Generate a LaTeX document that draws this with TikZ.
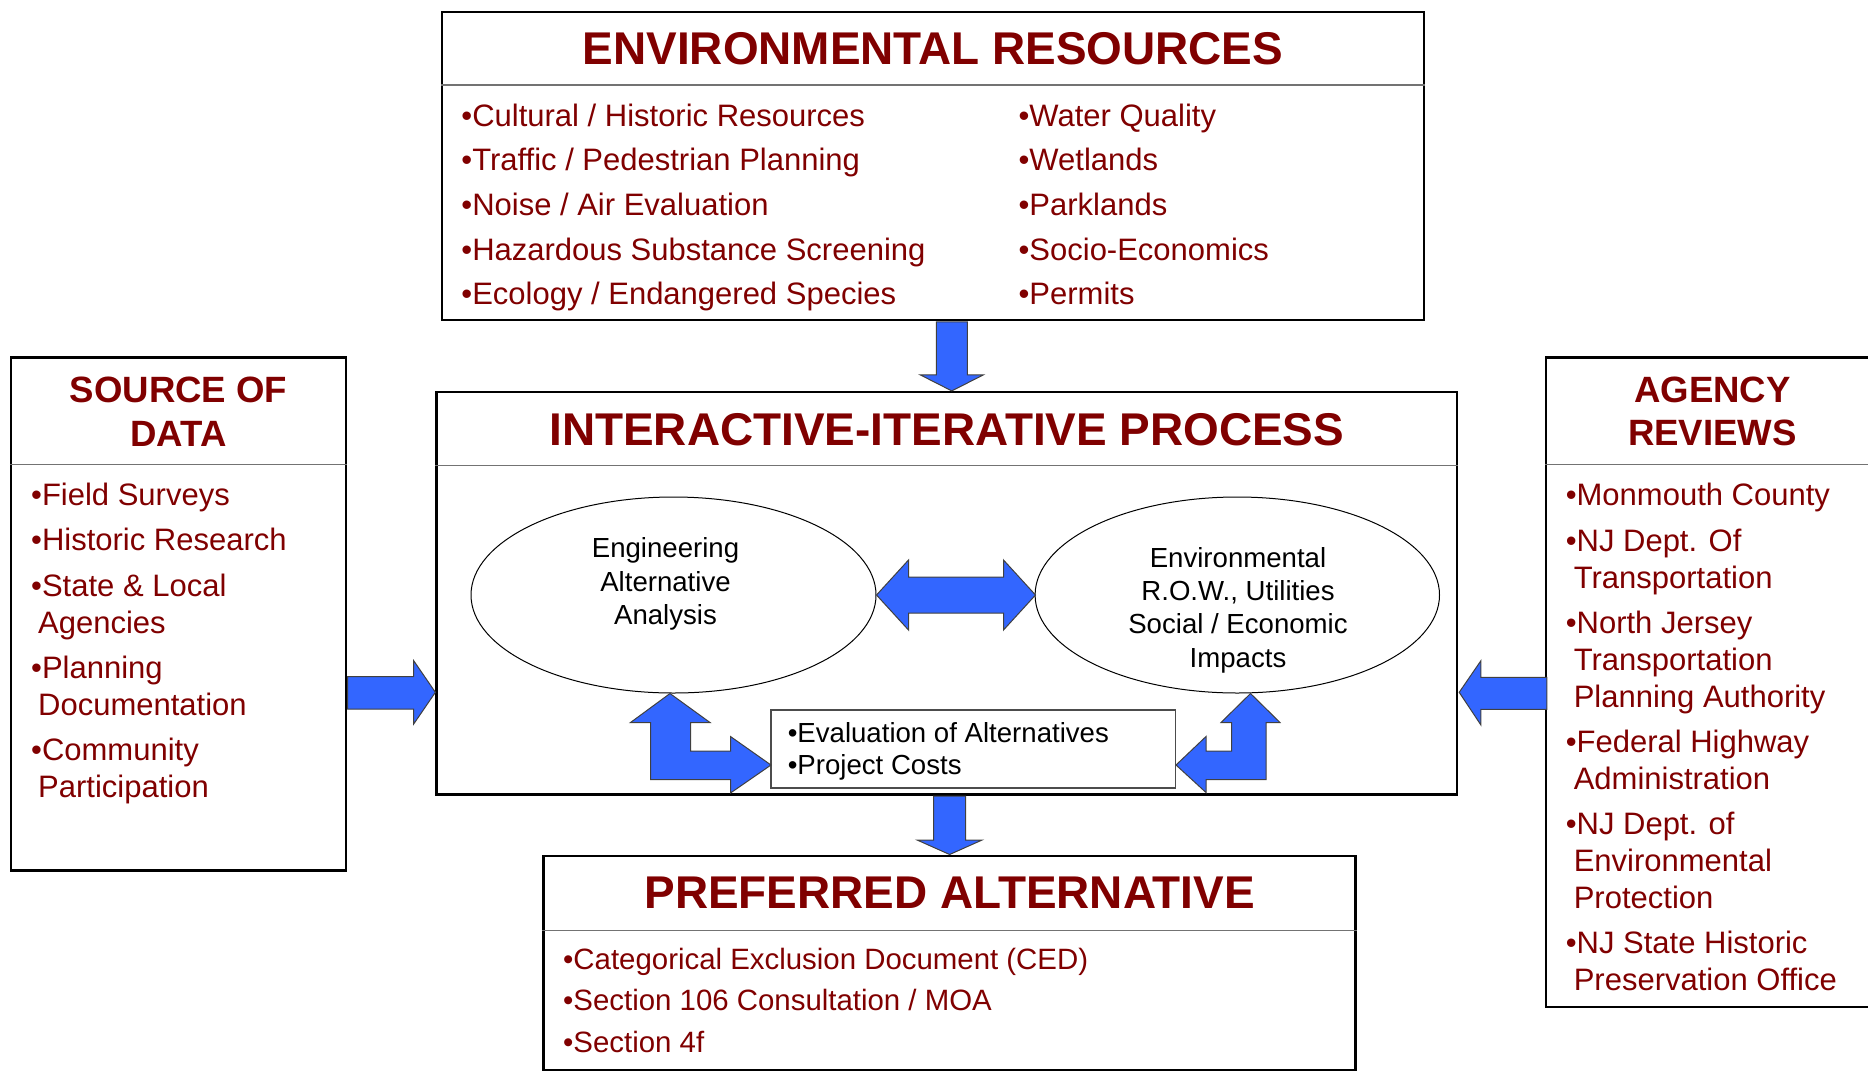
\documentclass[tikz,border=0pt]{standalone}
\usepackage{fontspec}
\setmainfont{Liberation Sans}
\usepackage{tikz}
\usetikzlibrary{shapes.geometric, arrows, positioning}
\definecolor{darkred}{RGB}{128,0,0}
\definecolor{fatblue}{RGB}{51,102,255}
\tikzstyle{box} = [rectangle, draw=black, line width=1.2pt, inner sep=0pt]
\tikzstyle{smallbox} = [rectangle, draw=black!70, line width=0.7pt, inner sep=0pt]
\tikzstyle{head} = [text=darkred, font=\fontsize{22.95}{26}\selectfont\bfseries, align=center, inner sep=0pt]
\tikzstyle{sidehead} = [text=darkred, font=\fontsize{18.3}{21.7}\selectfont\bfseries, align=center, inner sep=0pt]
\tikzstyle{items} = [text=darkred, font=\fontsize{15.5}{22.3}\selectfont, align=left, anchor=north west, inner sep=0pt]
\tikzstyle{sideitems} = [text=darkred, font=\fontsize{15.5}{18.4}\selectfont, align=left, anchor=north west, inner sep=0pt]
\tikzstyle{sep} = [draw=black!55, line width=0.75pt]
\tikzstyle{blob} = [ellipse, draw=black, line width=0.5pt, minimum height=98pt, inner sep=0pt]
\tikzstyle{blobtext} = [font=\fontsize{13.8}{16.65}\selectfont, align=center, inner sep=0pt]
\tikzstyle{fat} = [fill=fatblue, draw=black!75, line width=0.5pt, line join=miter]

\begin{document}
\begin{tikzpicture}[x=0.5pt, y=-0.5pt]
\useasboundingbox (0,0) rectangle (1868,1071);

% boxes
\node (env) [box, minimum width=491pt, minimum height=154pt] at (933,166) {};
\node (proc) [box, minimum width=510.2pt, minimum height=201.2pt] at (946.8,593.3) {};
\node (src) [box, minimum width=167.5pt, minimum height=256.4pt] at (178.5,613.9) {};
\node (agency) [box, minimum width=166.5pt, minimum height=324.8pt] at (1712.5,682.3) {};
\node (pref) [box, minimum width=406pt, minimum height=107.2pt] at (949.6,962.9) {};

\draw [sep] ([yshift=-37pt]env.north west) -- ([yshift=-37pt]env.north east);
\draw [sep] ([yshift=-37.2pt]proc.north west) -- ([yshift=-37.2pt]proc.north east);
\draw [sep] ([yshift=-54.2pt]src.north west) -- ([yshift=-54.2pt]src.north east);
\draw [sep] ([yshift=-54.2pt]agency.north west) -- ([yshift=-54.2pt]agency.north east);
\draw [sep] ([yshift=-38pt]pref.north west) -- ([yshift=-38pt]pref.north east);

% headers
\node (envt) [head] at ([yshift=-19pt]env.north) {ENVIRONMENTAL RESOURCES};
\node (proct) [head] at ([yshift=-19.5pt]proc.north) {INTERACTIVE-ITERATIVE PROCESS};
\node (preft) [head] at ([yshift=-19.1pt]pref.north) {PREFERRED ALTERNATIVE};
\node (srct) [sidehead] at ([yshift=-27.7pt]src.north) {SOURCE OF\\DATA};
\node (agencyt) [sidehead] at ([yshift=-27.4pt]agency.north) {AGENCY\\REVIEWS};

% lists
\node (envl) [items] at ([xshift=10.1pt, yshift=-46.3pt]env.north west)
  {•Cultural / Historic Resources\\•Traffic / Pedestrian Planning\\•Noise / Air Evaluation\\•Hazardous Substance Screening\\•Ecology / Endangered Species};
\node (envr) [items] at ([xshift=288.7pt, yshift=-46.3pt]env.north west)
  {•Water Quality\\•Wetlands\\•Parklands\\•Socio-Economics\\•Permits};
\node (srcl) [sideitems, font=\fontsize{15.5}{18.5}\selectfont] at ([xshift=10.5pt, yshift=-63.3pt]src.north west)
  {•Field Surveys\\[4.1pt]•Historic Research\\[4.1pt]•State \& Local\\\hspace*{3.5pt}Agencies\\[4.1pt]•Planning\\\hspace*{3.5pt}Documentation\\[4.1pt]•Community\\\hspace*{3.5pt}Participation};
\node (agencyl) [sideitems] at ([xshift=10.3pt, yshift=-63.4pt]agency.north west)
  {•Monmouth County\\[4.3pt]•NJ Dept. Of\\\hspace*{4pt}Transportation\\[4.3pt]•North Jersey\\\hspace*{4pt}Transportation\\\hspace*{4pt}Planning Authority\\[4.3pt]•Federal Highway\\\hspace*{4pt}Administration\\[4.3pt]•NJ Dept. of\\\hspace*{4pt}Environmental\\\hspace*{4pt}Protection\\[4.3pt]•NJ State Historic\\\hspace*{4pt}Preservation Office};
\node (prefl) [items, font=\fontsize{14.7}{20.75}\selectfont] at ([xshift=10.2pt, yshift=-46.5pt]pref.north west)
  {•Categorical Exclusion Document (CED)\\•Section 106 Consultation / MOA\\•Section 4f};

% inside the process
\node (eng) [blob, minimum width=202.5pt] at (673.5,595) {};
\node (envimp) [blob, minimum width=202.2pt] at (1237.3,595) {};
\node (engt) [blobtext] at (665.5,584) {Engineering\\Alternative\\Analysis};
\node (envimpt) [blobtext] at (1238,610) {Environmental\\R.O.W., Utilities\\Social / Economic\\Impacts};
\node (eval) [smallbox, minimum width=202.2pt, minimum height=39pt] at (973.3,749) {};
\node (evalt) [blobtext, anchor=north west, align=left, font=\fontsize{13.8}{16}\selectfont] at ([xshift=8.5pt, yshift=-6.6pt]eval.north west)
  {•Evaluation of Alternatives\\•Project Costs};

% block arrows
\draw [fat] ([xshift=2.5pt]proc.north) -- ++(-31.5,-16) -- ++(16,0) -- ++(0,-53) -- ++(31,0) -- ++(0,53) -- ++(16,0) -- cycle;
\draw [fat] (pref.north) -- ++(-32.5,-14.5) -- ++(16.5,0) -- ++(0,-44) -- ++(32,0) -- ++(0,44) -- ++(16.5,0) -- cycle;
\draw [fat] ([yshift=-49.5pt]proc.west) -- ++(-21.7,-31.6) -- ++(0,16) -- ++(-66,0) -- ++(0,32.3) -- ++(66,0) -- ++(0,15) -- cycle;
\draw [fat] ([xshift=0.5pt, yshift=-49.5pt]proc.east) -- ++(21.7,-31.6) -- ++(0,16.6) -- ++(66,0) -- ++(0,32) -- ++(-66,0) -- ++(0,15.7) -- cycle;
\draw [fat] (eng.east) -- ++(32,-35) -- ++(0,17) -- ++(95,0) -- ++(0,-17) -- ++(32,35) -- ++(-32,35) -- ++(0,-17) -- ++(-95,0) -- ++(0,17) -- cycle;
\draw [fat] ([xshift=-1.75pt]eng.south) -- ++(40,29) -- ++(-19.5,0) -- ++(0,28.5) -- ++(40,0) -- ++(0,-14.5) -- ++(40.5,28.5) -- ++(-40.5,28) -- ++(0,-13.5) -- ++(-80,0) -- ++(0,-57) -- ++(-20,0) -- cycle;
\draw [fat] ([xshift=6.6pt]envimp.south) -- ++(29.5,29) -- ++(-14,0) -- ++(0,57) -- ++(-60,0) -- ++(0,13) -- ++(-30,-27.5) -- ++(30,-28.5) -- ++(0,14.5) -- ++(25.5,0) -- ++(0,-28.5) -- ++(-10.5,0) -- cycle;
\end{tikzpicture}
\end{document}
